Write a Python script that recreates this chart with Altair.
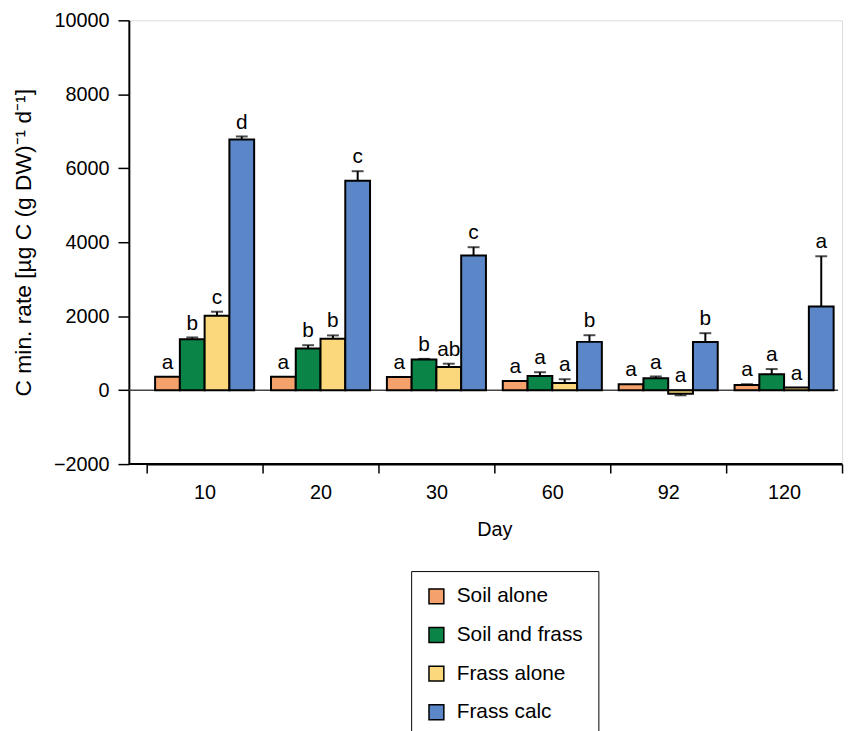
import altair as alt
import pandas as pd

FONT = "Liberation Sans"

days = ["10", "20", "30", "60", "92", "120"]
series = ["Soil alone", "Soil and frass", "Frass alone", "Frass calc"]
colors = ["#F4A16B", "#0A8447", "#FAD87B", "#5B87C8"]

soil_alone = [360, 360, 355, 250, 160, 140]
soil_alone_err = [0, 0, 0, 0, 0, 20]
soil_alone_letters = ["a", "a", "a", "a", "a", "a"]

soil_frass = [1375, 1125, 830, 385, 320, 430]
soil_frass_err = [50, 90, 15, 100, 50, 140]
soil_frass_letters = ["b", "b", "b", "a", "a", "a"]

frass_alone = [2010, 1390, 625, 190, -100, 70]
frass_alone_err = [110, 90, 90, 105, 40, 0]
frass_alone_letters = ["c", "b", "ab", "a", "a", "a"]

frass_calc = [6780, 5660, 3640, 1305, 1300, 2260]
frass_calc_err = [80, 260, 225, 180, 240, 1360]
frass_calc_letters = ["d", "c", "c", "b", "b", "a"]

y_ticks = [-2000, 0, 2000, 4000, 6000, 8000, 10000]

rows = []
for name, vals, errs, lets in [
    (series[0], soil_alone, soil_alone_err, soil_alone_letters),
    (series[1], soil_frass, soil_frass_err, soil_frass_letters),
    (series[2], frass_alone, frass_alone_err, frass_alone_letters),
    (series[3], frass_calc, frass_calc_err, frass_calc_letters),
]:
    for d, v, e, l in zip(days, vals, errs, lets):
        end = v + e if v >= 0 else v - e
        rows.append({"day": d, "series": name, "value": v, "err": e,
                     "end": end, "top": max(end, 0), "letter": l})
df = pd.DataFrame(rows)

W, H = 720, 448
XSTART = 18
yscale = alt.Scale(domain=[-2000, 10000], nice=False, zero=False)
ytitle = "C min. rate [µg C (g DW)⁻¹ d⁻¹]"
yaxis = alt.Axis(values=y_ticks, format="d", grid=False, tickSize=11,
                 tickColor="black", tickWidth=1.5, domainColor="black", domainWidth=2,
                 labelFont=FONT, labelFontSize=20, labelColor="black", labelPadding=9,
                 titleFont=FONT, titleFontSize=23, titleFontWeight="normal",
                 titleColor="black", titlePadding=18)
xaxis = alt.Axis(title="Day", tickBand="extent", labelAngle=0, grid=False,
                 domainColor="black", domainWidth=2, tickColor="black", tickWidth=1.5,
                 tickSize=9, labelFont=FONT, labelFontSize=20, labelColor="black",
                 labelPadding=10, titleFont=FONT, titleFontSize=20,
                 titleFontWeight="normal", titleColor="black", titlePadding=17)

base = alt.Chart(df).encode(
    x=alt.X("day:N", sort=days,
            scale=alt.Scale(range=[XSTART, W], paddingInner=0, paddingOuter=0),
            axis=xaxis),
    xOffset=alt.XOffset("series:N", sort=series,
                        scale=alt.Scale(paddingInner=0, paddingOuter=0.34)),
)

bars = base.mark_bar(stroke="black", strokeWidth=2).encode(
    y=alt.Y("value:Q", scale=yscale, axis=yaxis, title=ytitle),
    color=alt.Color("series:N", sort=series,
                    scale=alt.Scale(domain=series, range=colors),
                    legend=alt.Legend(title=None, orient="none", legendX=285, legendY=556,
                                      direction="vertical", symbolType="square",
                                      symbolSize=225, symbolStrokeColor="black",
                                      symbolStrokeWidth=1.5, labelFont=FONT,
                                      labelFontSize=21, labelColor="black", labelOffset=10,
                                      rowPadding=17, padding=15, strokeColor="black",
                                      fillColor="white")),
)

errbars = base.transform_filter("datum.err > 0").mark_rule(color="black", strokeWidth=2).encode(
    y=alt.Y("value:Q", scale=yscale, axis=yaxis, title=ytitle),
    y2="end:Q",
)
caps = base.transform_filter("datum.err > 0").mark_tick(
    color="black", thickness=2, size=12, orient="horizontal").encode(
    y=alt.Y("end:Q", scale=yscale, axis=yaxis, title=ytitle),
)
labels = base.mark_text(baseline="alphabetic", dy=-8, font=FONT, fontSize=21,
                        color="black").encode(
    y=alt.Y("top:Q", scale=yscale, axis=yaxis, title=ytitle),
    text="letter:N",
)

zero_df = pd.DataFrame({"v": [0]})
zero = alt.Chart(zero_df).mark_rule(color="#444444", strokeWidth=1.5).encode(
    y=alt.Y("v:Q", scale=yscale, axis=yaxis, title=ytitle),
    x=alt.value(0), x2=alt.value(W - 4),
)
bottom = alt.Chart(zero_df).mark_rule(color="black", strokeWidth=2).encode(
    y=alt.value(H), x=alt.value(0), x2=alt.value(W),
)

chart = alt.layer(zero, bottom, bars, errbars, caps, labels).properties(
    width=W, height=H,
    autosize=alt.AutoSizeParams(type="none"),
    padding={"left": 122, "top": 9, "right": 5, "bottom": 266},
).configure_view(stroke="transparent", strokeWidth=0).configure_axis(
    grid=False).configure_legend(strokeWidth=2).configure(background="white")

chart.save("out.html", embed_options={"renderer": "svg", "actions": False})
